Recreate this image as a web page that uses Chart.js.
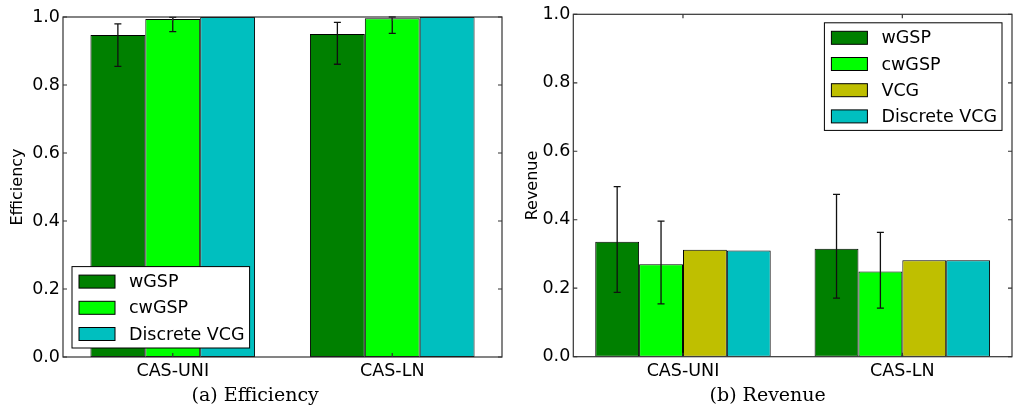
<!DOCTYPE html>
<html>
<head>
<meta charset="utf-8">
<script src="https://cdn.jsdelivr.net/npm/chart.js@4.4.1/dist/chart.umd.min.js"></script>
<style>
  body { margin: 0; background: #fff; }
  .panel { position: absolute; top: 0; height: 415px; }
</style>
</head>
<body>
<div class="panel" style="left:0;width:506px"><canvas id="eff" width="506" height="415"></canvas></div>
<div class="panel" style="left:506px;width:507px"><canvas id="rev" width="507" height="415"></canvas></div>
<script>
// categories
var categories = ["CAS-UNI", "CAS-LN"];
var yTicks = [0.0, 0.2, 0.4, 0.6, 0.8, 1.0];

// (a) efficiency
var effWgsp = [0.947, 0.950];
var effWgspLo = [0.855, 0.861];
var effWgspHi = [0.980, 0.984];
var effCwgsp = [0.994, 0.996];
var effCwgspLo = [0.957, 0.952];
var effCwgspHi = [0.999, 1.000];
var effDvcg = [1.0, 1.0];

// (b) revenue
var revWgsp = [0.336, 0.315];
var revWgspLo = [0.188, 0.171];
var revWgspHi = [0.497, 0.474];
var revCwgsp = [0.270, 0.249];
var revCwgspLo = [0.154, 0.142];
var revCwgspHi = [0.396, 0.363];
var revVcg = [0.312, 0.282];
var revDvcg = [0.310, 0.282];

var colors = { wgsp: '#008000', cwgsp: '#00ff00', vcg: '#bfbf00', dvcg: '#00bfbf' };
var FONT = 'DejaVu Sans';
var TXT = 17.5;
Chart.defaults.font.family = FONT;
Chart.defaults.color = '#000';

function bar(label, data, color, lo, hi) {
    return {
        label: label,
        data: data,
        backgroundColor: color,
        borderColor: '#000',
        borderWidth: 1,
        borderSkipped: false,
        errLo: lo,
        errHi: hi
    };
}

// frame, inward ticks, error bars and the in-axes legend
var decor = {
    id: 'decor',
    afterDatasetsDraw: function (chart, args, opts) {
        var ctx = chart.ctx, a = chart.chartArea;
        var x = chart.scales.x, y = chart.scales.y;
        ctx.save();
        // error bars
        ctx.strokeStyle = '#111';
        ctx.lineWidth = 1.3;
        chart.data.datasets.forEach(function (ds, i) {
            if (!ds.errLo) return;
            chart.getDatasetMeta(i).data.forEach(function (b, j) {
                var t = y.getPixelForValue(ds.errHi[j]);
                var bt = y.getPixelForValue(ds.errLo[j]);
                ctx.beginPath();
                ctx.moveTo(b.x, t); ctx.lineTo(b.x, bt);
                ctx.moveTo(b.x - 3.5, t); ctx.lineTo(b.x + 3.5, t);
                ctx.moveTo(b.x - 3.5, bt); ctx.lineTo(b.x + 3.5, bt);
                ctx.stroke();
            });
        });
        // frame
        ctx.strokeStyle = '#333';
        ctx.lineWidth = 1.2;
        ctx.strokeRect(a.left, a.top, a.right - a.left, a.bottom - a.top);
        // ticks pointing inward
        ctx.beginPath();
        y.ticks.forEach(function (t, k) {
            var py = y.getPixelForTick(k);
            ctx.moveTo(a.left, py); ctx.lineTo(a.left + 4, py);
            ctx.moveTo(a.right, py); ctx.lineTo(a.right - 4, py);
        });
        x.ticks.forEach(function (t, k) {
            var px = x.getPixelForTick(k);
            ctx.moveTo(px, a.bottom); ctx.lineTo(px, a.bottom - 4);
            ctx.moveTo(px, a.top); ctx.lineTo(px, a.top + 4);
        });
        ctx.stroke();
        ctx.restore();
    },
    afterDraw: function (chart, args, opts) {
        var ctx = chart.ctx, a = chart.chartArea;
        var items = chart.data.datasets;
        ctx.save();
        ctx.font = TXT + 'px ' + FONT;
        var tw = 0;
        items.forEach(function (d) { tw = Math.max(tw, ctx.measureText(d.label).width); });
        var w = 7 + 36 + 14 + tw + 5;
        var rowH = 26.2;
        var h = 15 + (items.length - 1) * rowH + 14;
        var bx = opts.corner === 'bl' ? a.left + 9 : a.right - 10 - w;
        var by = opts.corner === 'bl' ? a.bottom - 9 - h : a.top + 8.5;
        ctx.fillStyle = '#fff';
        ctx.fillRect(bx, by, w, h);
        ctx.strokeStyle = '#000';
        ctx.lineWidth = 1;
        ctx.strokeRect(bx, by, w, h);
        items.forEach(function (d, i) {
            var cy = by + 15 + i * rowH;
            ctx.fillStyle = d.backgroundColor;
            ctx.fillRect(bx + 7, cy - 6.5, 36, 13);
            ctx.strokeStyle = '#000';
            ctx.strokeRect(bx + 7, cy - 6.5, 36, 13);
            ctx.fillStyle = '#000';
            ctx.textBaseline = 'middle';
            ctx.textAlign = 'left';
            ctx.fillText(d.label, bx + 7 + 36 + 14, cy + 1);
        });
        ctx.restore();
    }
};

function makeOptions(yTitle, caption, pad, yWidth, xHeight, corner, catPct) {
    return {
        responsive: false,
        animation: false,
        layout: { padding: pad },
        datasets: { bar: { categoryPercentage: catPct, barPercentage: 1.0 } },
        scales: {
            x: {
                grid: { display: false, drawTicks: false },
                border: { display: false },
                ticks: { font: { size: TXT }, padding: 4 },
                afterFit: function (s) { s.height = xHeight; }
            },
            y: {
                min: yTicks[0],
                max: yTicks[yTicks.length - 1],
                grid: { display: false, drawTicks: false },
                border: { display: false },
                afterBuildTicks: function (s) { s.ticks = yTicks.map(function (v) { return { value: v }; }); },
                ticks: {
                    font: { size: TXT },
                    padding: 3,
                    callback: function (v) { return Number(v).toFixed(1); }
                },
                title: { display: true, text: yTitle, font: { size: 16 }, padding: 0 },
                afterFit: function (s) { s.width = yWidth; }
            }
        },
        plugins: {
            legend: { display: false },
            tooltip: { enabled: false },
            title: {
                display: true,
                position: 'bottom',
                text: caption,
                font: { family: 'DejaVu Serif', size: 19, weight: 'normal' },
                padding: { top: 6, bottom: 8 }
            },
            decor: { corner: corner }
        }
    };
}

window.onload = function () {
    new Chart(document.getElementById('eff'), {
        type: 'bar',
        data: {
            labels: categories,
            datasets: [
                bar('wGSP', effWgsp, colors.wgsp, effWgspLo, effWgspHi),
                bar('cwGSP', effCwgsp, colors.cwgsp, effCwgspLo, effCwgspHi),
                bar('Discrete VCG', effDvcg, colors.dvcg)
            ]
        },
        options: makeOptions('Efficiency', '(a) Efficiency',
            { left: 8.4, right: 4, top: 17, bottom: 0 }, 54.6, 21.2, 'bl', 0.75),
        plugins: [decor]
    });

    new Chart(document.getElementById('rev'), {
        type: 'bar',
        data: {
            labels: categories,
            datasets: [
                bar('wGSP', revWgsp, colors.wgsp, revWgspLo, revWgspHi),
                bar('cwGSP', revCwgsp, colors.cwgsp, revCwgspLo, revCwgspHi),
                bar('VCG', revVcg, colors.vcg),
                bar('Discrete VCG', revDvcg, colors.dvcg)
            ]
        },
        options: makeOptions('Revenue', '(b) Revenue',
            { left: 17.4, right: 1, top: 14.3, bottom: 0 }, 49.9, 21.5, 'tr', 0.8),
        plugins: [decor]
    });
};
</script>
</body>
</html>
